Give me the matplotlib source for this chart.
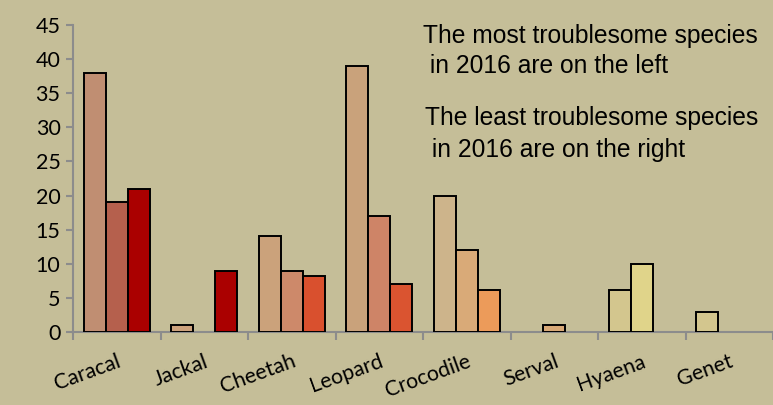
import matplotlib
matplotlib.use("Agg")
import matplotlib.pyplot as plt
import numpy as np

categories = ["Caracal", "Jackal", "Cheetah", "Leopard", "Crocodile", "Serval", "Hyaena", "Genet"]
# three bar slots per species (0 = empty slot)
series1 = [38, 1, 14, 39, 20, 0, 6.2, 3]
series2 = [19, 0, 9, 17, 12, 1, 10, 0]
series3 = [21, 9, 8.2, 7, 6.2, 0, 0, 0]
yticks = [0, 5, 10, 15, 20, 25, 30, 35, 40, 45]

colors1 = ["#C08E72", "#CDA27C", "#CBA27B", "#C9A27B", "#CDB48B", "#D8A977", "#D3C68E", "#D3C68E"]
colors2 = ["#B5604D", "#CDA27C", "#CD896A", "#CE8467", "#D9AA78", "#D8A977", "#E0D48A", "#D3C68E"]
colors3 = ["#AA0000", "#AA0000", "#D9502E", "#DA5430", "#EC9B5A", "#EC9B5A", "#E0D48A", "#D3C68E"]

bg = "#C5BE98"
fig = plt.figure(figsize=(7.73, 4.05), dpi=100, facecolor=bg)
ax = fig.add_axes([73/773, 1 - 332/405, 1 - 73/773, (332 - 25)/405])
ax.set_facecolor(bg)

x = np.arange(len(categories))
w = 0.25
for vals, cols, off in [(series1, colors1, -w), (series2, colors2, 0), (series3, colors3, w)]:
    for xi, v, c in zip(x, vals, cols):
        if v > 0:
            ax.bar(xi + off, v, width=w, color=c, edgecolor="black", linewidth=1.4, zorder=3)

ax.set_ylim(0, 45)
ax.set_xlim(-0.5, -0.5 + 700/88.4)
ax.set_yticks(yticks)
ax.set_yticklabels([str(t) for t in yticks], fontsize=15.5, family="Lato")
ax.set_xticks(np.arange(len(categories) + 1) - 0.5, minor=False)
ax.set_xticklabels([])
ax.set_xticks(x, minor=True)
ax.set_xticklabels(categories, minor=True, rotation=20, ha="right", rotation_mode="anchor",
                   fontsize=15.3, family="Lato")
ax.tick_params(axis="x", which="minor", length=0, pad=14)
ax.tick_params(axis="x", which="major", length=6, width=1.5, color="#8C8C8C")
ax.tick_params(axis="y", length=5, width=1.5, color="#8C8C8C", pad=4)
for s in ["top", "right"]:
    ax.spines[s].set_visible(False)
for s in ["left", "bottom"]:
    ax.spines[s].set_color("#8C8C8C")
    ax.spines[s].set_linewidth(1.5)

fs = 17.7
fig.text(423/773, 1 - 43/405, "The most troublesome species", fontsize=fs, family="Liberation Sans", ha="left", va="baseline")
fig.text(423/773, 1 - 73/405, " in 2016 are on the left", fontsize=fs, family="Liberation Sans", ha="left", va="baseline")
fig.text(425/773, 1 - 125/405, "The least troublesome species", fontsize=fs, family="Liberation Sans", ha="left", va="baseline")
fig.text(425/773, 1 - 157/405, " in 2016 are on the right", fontsize=fs, family="Liberation Sans", ha="left", va="baseline")

fig.savefig("out.png", dpi=100, facecolor=bg)
